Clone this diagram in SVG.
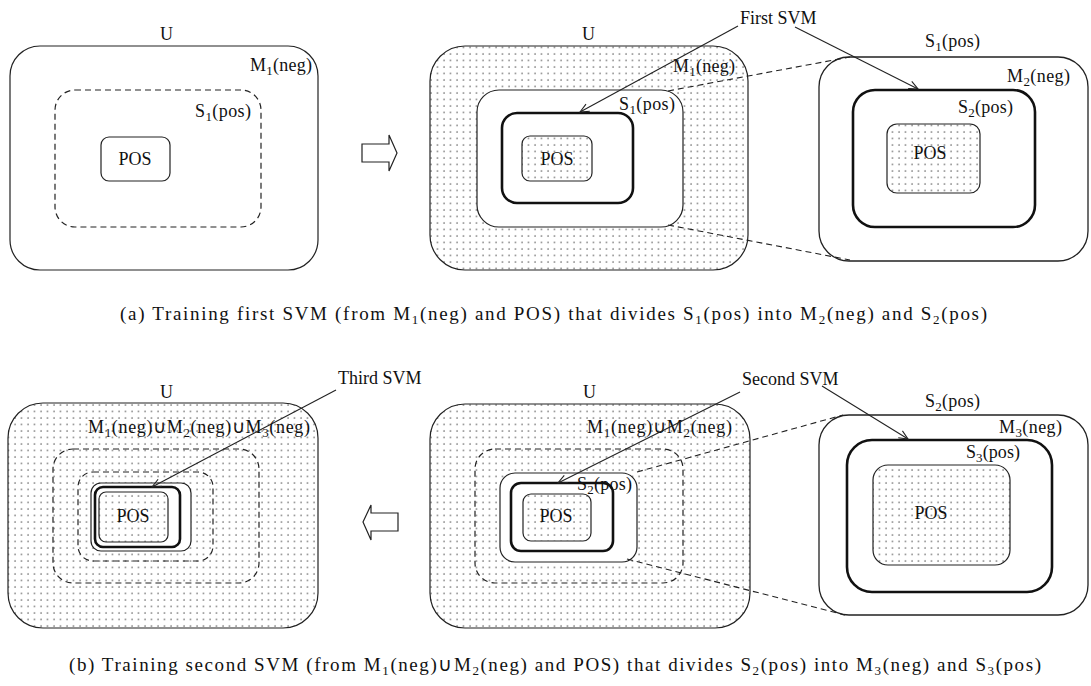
<svg xmlns="http://www.w3.org/2000/svg" width="1091" height="686" viewBox="0 0 1091 686">
<defs>
<pattern id="dots" width="6.5" height="6.5" patternUnits="userSpaceOnUse">
<rect width="6.5" height="6.5" fill="#ffffff"/>
<circle cx="2" cy="2" r="0.75" fill="#555"/>
</pattern>
<marker id="ah" markerWidth="12" markerHeight="12" refX="10" refY="5" orient="auto" markerUnits="userSpaceOnUse">
<path d="M1,1 L10,5 L1,9" fill="none" stroke="#222" stroke-width="1.1"/>
</marker>
<style>
.box{fill:#fff;stroke:#222;stroke-width:1.2}
.dot{fill:url(#dots);stroke:#222;stroke-width:1.2}
.dash{fill:none;stroke:#222;stroke-width:1.2;stroke-dasharray:6 4}
.thick{fill:#fff;stroke:#111;stroke-width:2.6}
.thickdot{fill:url(#dots);stroke:#111;stroke-width:2.6}
.conn{fill:none;stroke:#222;stroke-width:1.1;stroke-dasharray:6 4}
.arr{fill:none;stroke:#222;stroke-width:1.1;marker-end:url(#ah)}
.big{fill:#fff;stroke:#222;stroke-width:1.3}
text{font-family:"Liberation Serif","Times New Roman",serif;font-size:18px;fill:#111}
.cap{font-size:19px}
.sub{font-size:13px}
</style>
</defs>
<rect width="1091" height="686" fill="#fff"/>

<!-- Top-left panel -->
<g id="panel-a1">
<rect class="box" x="10" y="46" width="308" height="224" rx="30"/>
<text x="160" y="40">U</text>
<text x="250" y="71" textLength="62">M<tspan class="sub" dy="4">1</tspan><tspan dy="-4">(neg)</tspan></text>
<rect class="dash" x="55" y="90" width="206" height="137" rx="20"/>
<text x="195" y="117" textLength="56">S<tspan class="sub" dy="4">1</tspan><tspan dy="-4">(pos)</tspan></text>
<rect class="box" x="101" y="137" width="69" height="44" rx="8"/>
<text x="135" y="165" text-anchor="middle">POS</text>
</g>

<g id="arrow-right">
<polygon points="362,144 389,144 389,135 397,153 389,171 389,162 362,162" fill="#fff" stroke="#222" stroke-width="1.2"/>
</g>

<!-- Top-middle panel -->
<g id="panel-a2">
<rect class="dot" x="430" y="46" width="318" height="224" rx="35"/>
<text x="582" y="40">U</text>
<text x="673" y="72" textLength="62">M<tspan class="sub" dy="4">1</tspan><tspan dy="-4">(neg)</tspan></text>
<rect class="box" x="477" y="90" width="206" height="137" rx="22"/>
<text x="619" y="110" textLength="56">S<tspan class="sub" dy="4">1</tspan><tspan dy="-4">(pos)</tspan></text>
<rect class="thick" x="502" y="113" width="131" height="90" rx="15"/>
<rect class="dot" x="522" y="136" width="70" height="45" rx="8"/>
<text x="557" y="165" text-anchor="middle">POS</text>
</g>

<!-- Top-right panel -->
<g id="panel-a3">
<rect class="big" x="819" y="57" width="269" height="204" rx="30"/>
<text x="925" y="47" textLength="55">S<tspan class="sub" dy="4">1</tspan><tspan dy="-4">(pos)</tspan></text>
<text x="1007" y="82" textLength="63">M<tspan class="sub" dy="4">2</tspan><tspan dy="-4">(neg)</tspan></text>
<rect class="thick" x="853" y="90" width="182" height="137" rx="22"/>
<text x="958" y="113" textLength="55">S<tspan class="sub" dy="4">2</tspan><tspan dy="-4">(pos)</tspan></text>
<rect class="dot" x="887" y="124" width="93" height="69" rx="10"/>
<text x="930" y="159" text-anchor="middle">POS</text>
</g>

<g id="label-first-svm">
<text x="740" y="24">First SVM</text>
</g>

<!-- Bottom-left panel -->
<g id="panel-b1">
<rect class="dot" x="8" y="403" width="310" height="225" rx="35"/>
<text x="160" y="398">U</text>
<text x="88" y="433" textLength="222">M<tspan class="sub" dy="4">1</tspan><tspan dy="-4">(neg)∪M</tspan><tspan class="sub" dy="4">2</tspan><tspan dy="-4">(neg)∪M</tspan><tspan class="sub" dy="4">3</tspan><tspan dy="-4">(neg)</tspan></text>
<rect class="dash" x="53" y="449" width="206" height="134" rx="20"/>
<rect class="dash" x="78" y="472" width="135" height="89" rx="15"/>
<rect class="box" x="91" y="483" width="100" height="68" rx="10"/>
<rect class="thick" x="95" y="487" width="85" height="60" rx="8"/>
<rect class="dot" x="99" y="492" width="69" height="50" rx="7"/>
<text x="133" y="522" text-anchor="middle">POS</text>
</g>

<g id="label-third-svm">
<text x="338" y="384">Third SVM</text>
</g>

<g id="arrow-left">
<polygon points="398,513 371,513 371,505 363,522 371,540 371,531 398,531" fill="#fff" stroke="#222" stroke-width="1.2"/>
</g>

<!-- Bottom-middle panel -->
<g id="panel-b2">
<rect class="dot" x="430" y="404" width="320" height="224" rx="35"/>
<text x="583" y="398">U</text>
<text x="587" y="433" textLength="145">M<tspan class="sub" dy="4">1</tspan><tspan dy="-4">(neg)∪M</tspan><tspan class="sub" dy="4">2</tspan><tspan dy="-4">(neg)</tspan></text>
<rect class="dash" x="475" y="449" width="208" height="134" rx="20"/>
<rect class="box" x="500" y="473" width="137" height="89" rx="15"/>
<rect class="thick" x="511" y="483" width="102" height="68" rx="10"/>
<rect class="dot" x="523" y="494" width="68" height="47" rx="8"/>
<text x="556" y="522" text-anchor="middle">POS</text>
<text x="577" y="490" textLength="55">S<tspan class="sub" dy="4">2</tspan><tspan dy="-4">(pos)</tspan></text>
</g>

<!-- Bottom-right panel -->
<g id="panel-b3">
<rect class="big" x="819" y="415" width="269" height="200" rx="30"/>
<text x="925" y="407" textLength="55">S<tspan class="sub" dy="4">2</tspan><tspan dy="-4">(pos)</tspan></text>
<text x="999" y="433" textLength="63">M<tspan class="sub" dy="4">3</tspan><tspan dy="-4">(neg)</tspan></text>
<rect class="thick" x="847" y="440" width="205" height="152" rx="25"/>
<text x="966" y="458" textLength="54">S<tspan class="sub" dy="4">3</tspan><tspan dy="-4">(pos)</tspan></text>
<rect class="dot" x="873" y="465" width="137" height="100" rx="15"/>
<text x="931" y="519" text-anchor="middle">POS</text>
</g>

<g id="label-second-svm">
<text x="742" y="385">Second SVM</text>
</g>

<!-- Connectors -->
<g id="connectors">
<line class="conn" x1="668" y1="91" x2="850" y2="57"/>
<line class="conn" x1="668" y1="225" x2="850" y2="260"/>
<line class="arr" x1="738" y1="26" x2="580" y2="112"/>
<line class="arr" x1="795" y1="27" x2="918" y2="89"/>
<line class="conn" x1="637" y1="472" x2="843" y2="415"/>
<line class="conn" x1="627" y1="559" x2="845" y2="615"/>
<line class="arr" x1="740" y1="392" x2="558" y2="483"/>
<line class="arr" x1="822" y1="386" x2="908" y2="439"/>
<line class="arr" x1="336" y1="390" x2="152" y2="487"/>
</g>

<g id="captions">
<text class="cap" x="120" y="320" textLength="867">(a) Training first SVM (from M<tspan class="sub" dy="4">1</tspan><tspan dy="-4">(neg) and POS) that divides S</tspan><tspan class="sub" dy="4">1</tspan><tspan dy="-4">(pos) into M</tspan><tspan class="sub" dy="4">2</tspan><tspan dy="-4">(neg) and S</tspan><tspan class="sub" dy="4">2</tspan><tspan dy="-4">(pos)</tspan></text>
<text class="cap" x="69" y="671" textLength="972">(b) Training second SVM (from M<tspan class="sub" dy="4">1</tspan><tspan dy="-4">(neg)∪M</tspan><tspan class="sub" dy="4">2</tspan><tspan dy="-4">(neg) and POS) that divides S</tspan><tspan class="sub" dy="4">2</tspan><tspan dy="-4">(pos) into M</tspan><tspan class="sub" dy="4">3</tspan><tspan dy="-4">(neg) and S</tspan><tspan class="sub" dy="4">3</tspan><tspan dy="-4">(pos)</tspan></text>
</g>
</svg>
